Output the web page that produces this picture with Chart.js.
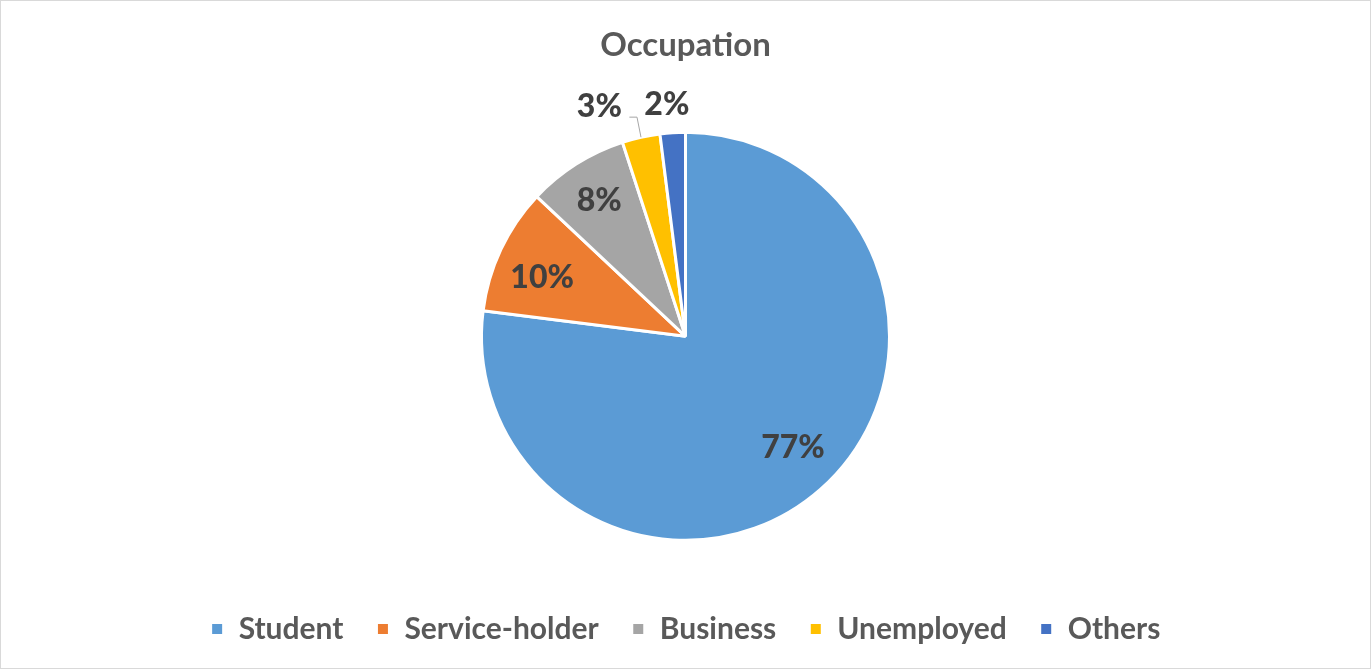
<!DOCTYPE html>
<html>
<head>
<meta charset="utf-8">
<script src="https://cdn.jsdelivr.net/npm/chart.js@4.4.0/dist/chart.umd.min.js"></script>
<style>
  html, body { margin: 0; padding: 0; background: #fff; }
  .wrap { width: 1369px; height: 667px; border: 1px solid #d9d9d9; position: relative; }
</style>
</head>
<body>
<div class="wrap"><canvas id="pie" width="1369" height="667"></canvas></div>
<script>
// данные диаграммы
const categories = ['Student', 'Service-holder', 'Business', 'Unemployed', 'Others'];
const shares = [77, 10, 8, 3, 2];
const sliceColors = ['#5B9BD5', '#ED7D31', '#A5A5A5', '#FFC000', '#4472C4'];

// подписи процентов: радиус (доля от R) и сдвиг угла в градусах
const labelPlacement = [
    { r: 0.76, da: -2.5 },
    { r: 0.76, da: -2.8 },
    { r: 0.79, da: 0 },
    { r: 1.2, da: -8, leader: true },
    { r: 1.14, da: -1 }
];

const pctLabels = {
    id: 'pctLabels',
    afterDatasetsDraw(chart) {
        const ctx = chart.ctx;
        const arcs = chart.getDatasetMeta(0).data;
        ctx.save();
        ctx.font = '900 32px Lato';
        ctx.fillStyle = '#404040';
        ctx.textAlign = 'center';
        ctx.textBaseline = 'middle';
        arcs.forEach((arc, i) => {
            const p = arc.getProps(['x', 'y', 'startAngle', 'endAngle', 'outerRadius'], true);
            const place = labelPlacement[i];
            const mid = (p.startAngle + p.endAngle) / 2 + place.da * Math.PI / 180;
            const lx = p.x + Math.cos(mid) * p.outerRadius * place.r;
            const ly = p.y + Math.sin(mid) * p.outerRadius * place.r;
            if (place.leader) {
                const realMid = (p.startAngle + p.endAngle) / 2;
                const ex = p.x + Math.cos(realMid) * p.outerRadius;
                const ey = p.y + Math.sin(realMid) * p.outerRadius;
                ctx.beginPath();
                ctx.strokeStyle = '#a6a6a6';
                ctx.lineWidth = 1;
                ctx.moveTo(ex, ey);
                ctx.lineTo(ex - 4, ly + 10);
                ctx.lineTo(lx + 30, ly + 10);
                ctx.stroke();
            }
            ctx.fillText(shares[i] + '%', lx, ly);
        });
        ctx.restore();
    }
};

new Chart(document.getElementById('pie'), {
    type: 'pie',
    data: {
        labels: categories,
        datasets: [{
            data: shares,
            backgroundColor: sliceColors,
            borderColor: '#ffffff',
            borderWidth: 3,
            radius: 204
        }]
    },
    options: {
        responsive: false,
        animation: false,
        layout: { padding: { top: 0, bottom: 14 } },
        plugins: {
            title: {
                display: true,
                text: 'Occupation',
                color: '#595959',
                font: { family: 'Lato', size: 33, weight: 'bold' },
                padding: { top: 25, bottom: 26 }
            },
            legend: {
                position: 'bottom',
                labels: {
                    color: '#595959',
                    font: { family: 'Lato', size: 30, weight: 'bold' },
                    boxWidth: 13,
                    boxHeight: 13,
                    padding: 33
                }
            },
            tooltip: { enabled: false }
        }
    },
    plugins: [pctLabels]
});
</script>
</body>
</html>
